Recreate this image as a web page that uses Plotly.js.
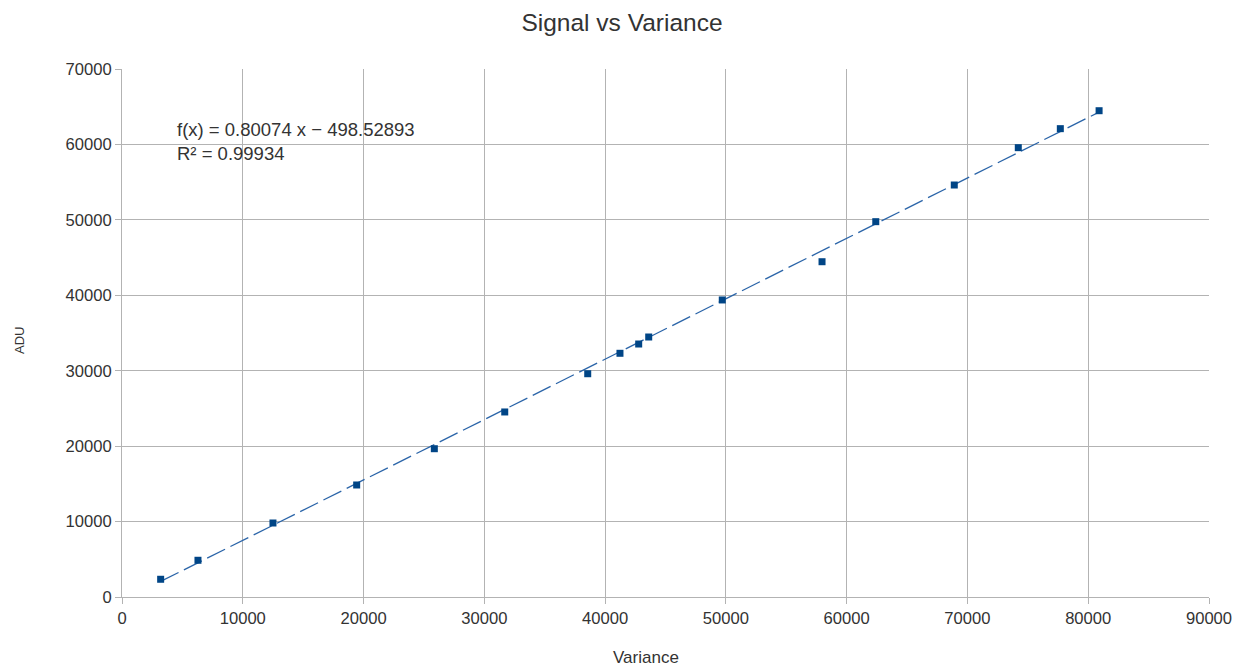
<!DOCTYPE html>
<html>
<head>
<meta charset="utf-8">
<script src="https://cdn.plot.ly/plotly-3.0.1.min.js"></script>
<style>html,body{margin:0;padding:0;background:#fff;}#chart{width:1244px;height:669px;}</style>
</head>
<body>
<div id="chart"></div>
<script>
// Data
const variance = [3200, 6290, 12500, 19430, 25860, 31690, 38560, 41230, 42780, 43610, 49700, 57960, 62410, 68910, 74210, 77690, 80900];
const adu      = [2350, 4870, 9810, 14850, 19660, 24530, 29600, 32310, 33540, 34470, 39380, 44450, 49760, 54620, 59570, 62090, 64470];
const slope = 0.80074;
const intercept = -498.52893;
const r2 = 0.99934;
const xTicks = [0, 10000, 20000, 30000, 40000, 50000, 60000, 70000, 80000, 90000];
const yTicks = [0, 10000, 20000, 30000, 40000, 50000, 60000, 70000];

const xMin = Math.min(...variance), xMax = Math.max(...variance);
const trendX = [xMin, xMax];
const trendY = trendX.map(x => slope * x + intercept);

const font = "'Liberation Sans', Arial, sans-serif";
const traces = [
  {x: trendX, y: trendY, mode: 'lines', type: 'scatter',
   line: {color: '#2a64a8', width: 1.3, dash: '20px,6px'}, hoverinfo: 'skip'},
  {x: variance, y: adu, mode: 'markers', type: 'scatter',
   marker: {symbol: 'square', size: 7, color: '#004586'}}
];
const layout = {
  width: 1244, height: 669,
  margin: {l: 122, r: 35, t: 69, b: 72},
  paper_bgcolor: '#fff', plot_bgcolor: '#fff',
  showlegend: false,
  font: {family: font, color: '#333'},
  title: {text: 'Signal vs Variance', font: {size: 24.5, color: '#333', family: font}, x: 0.5, xanchor: 'center', y: 0.967, yanchor: 'middle'},
  xaxis: {
    range: [0, 90000], tickvals: xTicks, ticktext: xTicks.map(String),
    showgrid: true, gridcolor: '#b3b3b3', gridwidth: 1,
    zeroline: false, showline: true, linecolor: '#b3b3b3', linewidth: 1,
    ticks: 'outside', ticklen: 6, tickcolor: '#b3b3b3',
    tickfont: {size: 16.6, color: '#333', family: font}
  },
  yaxis: {
    range: [0, 70000], tickvals: yTicks, ticktext: yTicks.map(String),
    showgrid: true, gridcolor: '#b3b3b3', gridwidth: 1,
    zeroline: false, showline: true, linecolor: '#b3b3b3', linewidth: 1,
    ticks: 'outside', ticklen: 6, tickcolor: '#b3b3b3',
    tickfont: {size: 16.6, color: '#333', family: font}
  },
  annotations: [
    {
      xref: 'paper', yref: 'paper', x: (175 - 122) / 1087, y: (597 - 117) / 528,
      xanchor: 'left', yanchor: 'top', align: 'left', showarrow: false,
      text: 'f(x) = ' + slope.toFixed(5) + ' x \u2212 ' + Math.abs(intercept).toFixed(5) + '<br>R\u00b2 = ' + r2.toFixed(5),
      font: {size: 18.5, color: '#333', family: font}
    },
    {
      xref: 'paper', yref: 'paper', x: (646 - 122) / 1087, y: (597 - 668) / 528,
      xanchor: 'center', yanchor: 'bottom', showarrow: false, borderpad: 0,
      text: 'Variance', font: {size: 17, color: '#333', family: font}
    },
    {
      xref: 'paper', yref: 'paper', x: (19 - 122) / 1087, y: (597 - 341) / 528,
      xanchor: 'center', yanchor: 'middle', showarrow: false, textangle: -90,
      text: 'ADU', font: {size: 13, color: '#333', family: font}
    }
  ]
};
Plotly.newPlot('chart', traces, layout, {displayModeBar: false, staticPlot: true});
</script>
</body>
</html>
